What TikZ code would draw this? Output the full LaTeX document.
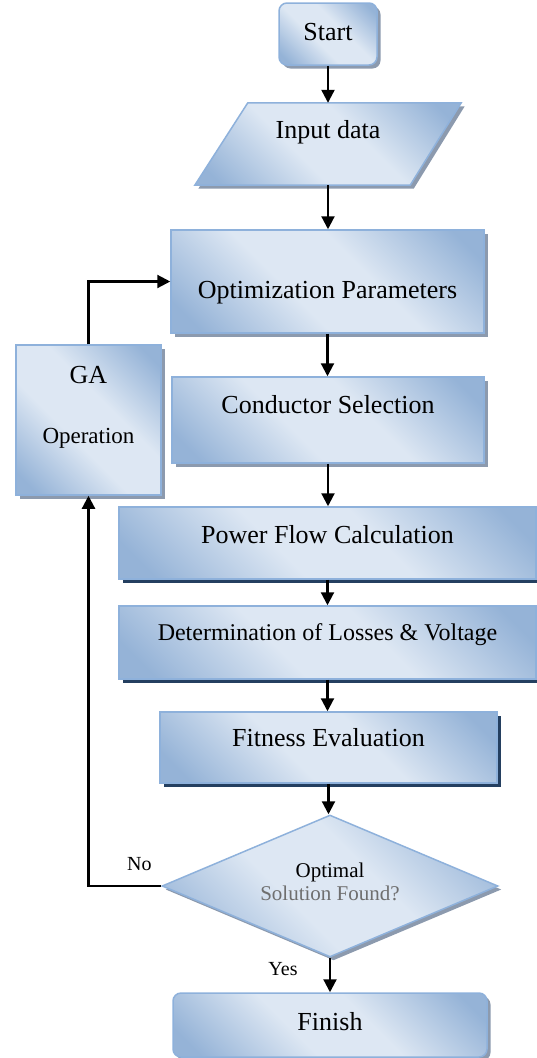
\documentclass[tikz,border=0pt]{standalone}
\usepackage{fontspec}
\setmainfont{Liberation Serif}
\usetikzlibrary{shapes.geometric,shadows,arrows.meta,backgrounds,calc}
\definecolor{blt}{HTML}{DDE7F3}
\definecolor{bdk}{HTML}{95B3D7}
\definecolor{bbord}{HTML}{8EB1DB}
\definecolor{shgray}{HTML}{8C9AAE}
\definecolor{shnavy}{HTML}{243F60}
\definecolor{txtgray}{HTML}{6E6E6E}
\pgfdeclareverticalshading{bandshade}{100bp}{color(0bp)=(bdk); color(20bp)=(bdk); color(42bp)=(blt); color(58bp)=(blt); color(80bp)=(bdk); color(100bp)=(bdk)}
\tikzset{
  box/.style={rectangle, draw=bbord, line width=1.5pt, shade, shading=bandshade, shading angle=-45,
    inner sep=0pt, font=\fontsize{26}{30}\selectfont, text=black},
  gshadow/.style={drop shadow={shadow xshift=3.5pt, shadow yshift=-3.5pt, fill=shgray, opacity=1}},
  nshadow/.style={drop shadow={shadow xshift=4pt, shadow yshift=-4pt, fill=shnavy, opacity=1}},
  arr/.style={line width=2.2pt, -{Triangle[length=13pt,width=13pt]}},
  lbl/.style={font=\fontsize{20}{24}\selectfont, inner sep=0pt}
}
\begin{document}
\begin{tikzpicture}[x=1pt,y=-1pt]
\useasboundingbox (0,0) rectangle (537,1058);
% nodes
\node[box, gshadow, rounded corners=8pt, minimum width=98pt, minimum height=62pt,
  text height=18pt, text depth=6pt] (start) at (328,34) {Start};
\node[font=\fontsize{26}{30}\selectfont, minimum width=266pt, minimum height=82pt, inner sep=0pt,
  text height=18pt, text depth=30pt] (inp) at (328,144) {Input data};
\begin{scope}[on background layer]
  \fill[shgray] ($(inp.north west)+(56.5,3.5)$) -- ($(inp.north east)+(3.5,3.5)$)
    -- ($(inp.south east)+(-47.5,3.5)$) -- ($(inp.south west)+(3.5,3.5)$) -- cycle;
  \path[shade, shading=bandshade, shading angle=-45, draw=bbord, line width=1.5pt]
    ($(inp.north west)+(53,0)$) -- (inp.north east) -- ($(inp.south east)+(-51,0)$)
    -- (inp.south west) -- cycle;
\end{scope}
\node[box, gshadow, minimum width=313pt, minimum height=103pt,
  text height=40pt, text depth=7pt] (opt) at (327.5,281.5) {Optimization Parameters};
\node[box, gshadow, minimum width=312pt, minimum height=86pt,
  text height=18pt, text depth=32pt] (cond) at (328,420) {Conductor Selection};
\node[box, gshadow, minimum width=145pt, minimum height=150pt, align=center,
  text depth=30pt] (ga) at (88.5,420)
  {GA\\[30pt]{\fontsize{23}{26}\selectfont Operation}};
\node[box, nshadow, minimum width=417pt, minimum height=72pt,
  text height=18pt, text depth=18pt] (pf) at (327.5,543) {Power Flow Calculation};
\node[box, nshadow, minimum width=417pt, minimum height=73pt, font=\fontsize{24}{28}\selectfont,
  text height=18pt, text depth=23pt] (det) at (327.5,642.5) {Determination of Losses \& Voltage};
\node[box, nshadow, minimum width=337pt, minimum height=71pt,
  text height=18pt, text depth=21pt] (fit) at (328.5,747.5) {Fitness Evaluation};
\node[box, gshadow, diamond, shape aspect=2.366, minimum width=336pt, minimum height=142pt,
  align=center, font=\fontsize{21}{23}\selectfont, text depth=9pt] (dia) at (330,886)
  {Optimal\\ \textcolor{txtgray}{Solution Found?}};
\node[box, gshadow, rounded corners=8pt, minimum width=314pt, minimum height=64pt,
  text height=18pt, text depth=8pt] (fin) at (330,1025) {Finish};
% connectors
\draw[arr] (start.south) -- (start.south |- inp.north);
\draw[arr] (inp.south) -- (inp.south |- opt.north);
\draw[arr] (opt.south) -- (opt.south |- cond.north);
\draw[arr] (cond.south) -- (cond.south |- pf.north);
\draw[arr] (pf.south) -- (pf.south |- det.north);
\draw[arr] (det.south) -- (det.south |- fit.north);
\draw[arr] (fit.south) -- (fit.south |- dia.north);
\draw[arr] (dia.south) -- node[lbl, pos=0.33, xshift=-47pt] {Yes} (dia.south |- fin.north);
\draw[arr] (dia.west) -| node[lbl, pos=0.15, yshift=22pt] {No} (ga.south);
\draw[arr] (ga.north) |- (opt.west);
\end{tikzpicture}
\end{document}
